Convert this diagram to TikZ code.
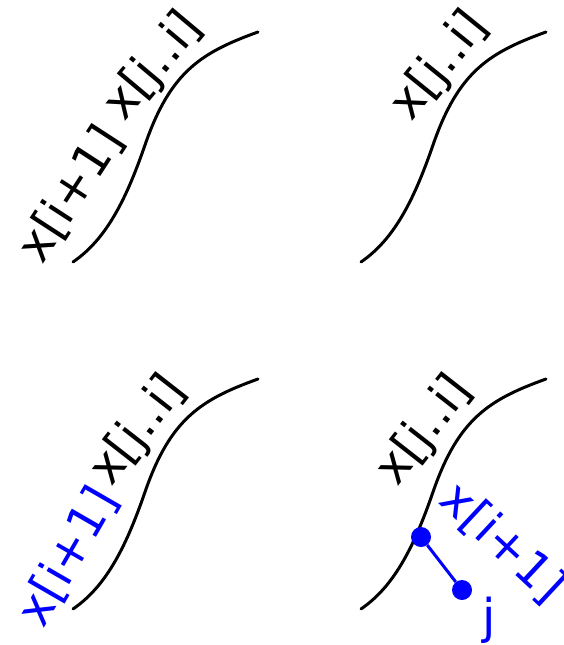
\documentclass[tikz,border=0pt]{standalone}
\usepackage{fontspec}
\setmainfont{DejaVu Sans}
\begin{document}
\begin{tikzpicture}[x=1pt,y=-1pt,
  curve/.style={line width=3pt, line cap=round},
  lbl/.style={font=\fontsize{48}{58}\selectfont, inner sep=0pt},
  hl/.style={text=blue},
  dot/.style={circle, fill=blue, minimum size=20pt, inner sep=0pt},
  link/.style={blue, line width=3pt}]
\useasboundingbox (0,0) rectangle (563,645);
\clip (0,0) rectangle (563,645);
\def\scurve{(73,262) .. controls (105,240) and (125,203) .. (145,145) .. controls (170.4,71.3) and (201.6,52.4) .. (258,32)}
% panel 1
\draw[curve] \scurve;
\node[lbl, rotate=57] (a1) at (71,194.5) {x[i+1]};
\node[lbl, rotate=50] (b1) at (154,67) {x[j..i]};
% panel 2
\begin{scope}[shift={(288,0)}]
\draw[curve] \scurve;
\end{scope}
\node[lbl, rotate=51] (b2) at (440,66) {x[j..i]};
% panel 3
\begin{scope}[shift={(0,347)}]
\draw[curve] \scurve;
\end{scope}
\node[lbl, hl, rotate=60] (a3) at (68,557) {x[i+1]};
\node[lbl, rotate=52] (b3) at (138.5,431) {x[j..i]};
% panel 4
\begin{scope}[shift={(288,347)}]
\draw[curve] \scurve;
\end{scope}
\node[lbl, rotate=52] (b4) at (425,431) {x[j..i]};
\node[dot] (d1) at (421,537) {};
\node[dot] (d2) at (462,590) {};
\draw[link] (d1) -- (d2);
\node[lbl, hl, rotate=-43] (a4) at (503,543) {x[i+1]};
\node[lbl, hl, anchor=base] (j) at (489,633) {j};
\end{tikzpicture}
\end{document}
